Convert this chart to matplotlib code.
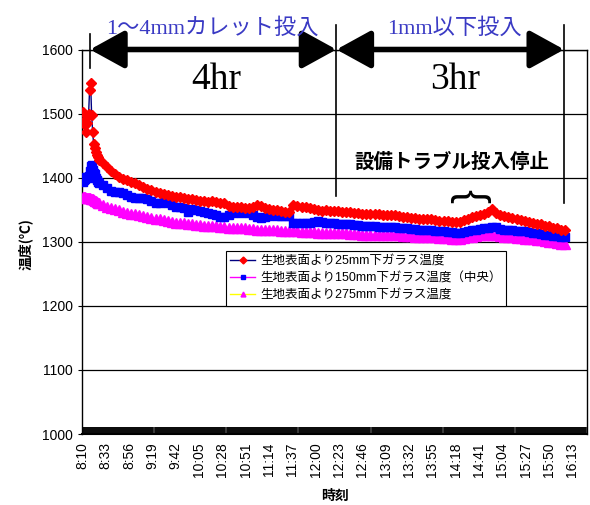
import matplotlib
matplotlib.use("Agg")
import matplotlib.pyplot as plt

plt.rcParams["font.family"] = ["Liberation Sans", "Noto Sans CJK JP"]

# minutes after 8:10 (category positions)
t_min = list(range(0, 17)) + list(range(20, 477, 4))

temp_25 = [1502, 1488, 1482, 1471, 1486, 1497, 1500, 1537, 1547, 1498, 1472, 1452, 1446, 1440, 1436, 1432, 1428,
           1423, 1417, 1411, 1406, 1401, 1398, 1396, 1393, 1392, 1388, 1385, 1383, 1380, 1377, 1376, 1374,
           1373, 1371, 1370, 1370, 1368, 1367, 1366, 1365, 1364, 1363, 1362, 1363, 1362, 1361, 1360, 1356,
           1354, 1354, 1355, 1352, 1353, 1355, 1357, 1356, 1353, 1351, 1349, 1349, 1348, 1346, 1346, 1357,
           1356, 1355, 1354, 1352, 1351, 1349, 1348, 1349, 1348, 1348, 1348, 1347, 1346, 1347, 1345, 1345,
           1344, 1344, 1343, 1343, 1343, 1342, 1342, 1341, 1341, 1340, 1339, 1338, 1337, 1337, 1336, 1336,
           1335, 1335, 1334, 1333, 1332, 1332, 1331, 1331, 1331, 1334, 1336, 1338, 1340, 1342, 1344, 1347,
           1351, 1345, 1341, 1340, 1338, 1337, 1336, 1334, 1333, 1331, 1329, 1328, 1327, 1325, 1324, 1322,
           1321, 1319, 1318]

temp_150 = [1393, 1396, 1398, 1401, 1401, 1400, 1403, 1410, 1418, 1420, 1412, 1408, 1405, 1400, 1396, 1393, 1391,
            1388, 1384, 1379, 1377, 1377, 1376, 1373, 1370, 1368, 1368, 1368, 1366, 1363, 1360, 1361, 1362,
            1360, 1357, 1355, 1354, 1353, 1346, 1351, 1349, 1348, 1347, 1345, 1344, 1342, 1339, 1338, 1342,
            1345, 1346, 1345, 1346, 1345, 1342, 1339, 1337, 1338, 1340, 1341, 1340, 1340, 1340, 1340, 1329,
            1329, 1330, 1329, 1330, 1331, 1332, 1331, 1330, 1329, 1329, 1328, 1328, 1327, 1327, 1326, 1326,
            1325, 1325, 1324, 1324, 1323, 1323, 1323, 1323, 1323, 1322, 1322, 1321, 1320, 1320, 1319, 1319,
            1318, 1318, 1317, 1317, 1316, 1315, 1315, 1314, 1314, 1315, 1316, 1318, 1319, 1320, 1321, 1322,
            1323, 1323, 1320, 1319, 1318, 1318, 1317, 1316, 1316, 1315, 1314, 1313, 1312, 1311, 1310, 1309,
            1309, 1308, 1307]

temp_275 = [1370, 1370, 1370, 1369, 1369, 1369, 1368, 1368, 1367, 1366, 1366, 1365, 1364, 1363, 1362, 1361, 1360,
            1358, 1355, 1353, 1351, 1349, 1347, 1345, 1344, 1343, 1341, 1340, 1339, 1337, 1336, 1335, 1334,
            1333, 1331, 1330, 1329, 1329, 1328, 1327, 1326, 1326, 1325, 1324, 1324, 1324, 1323, 1323, 1322,
            1322, 1321, 1321, 1321, 1320, 1320, 1319, 1319, 1319, 1318, 1318, 1318, 1317, 1317, 1316, 1316,
            1316, 1315, 1315, 1315, 1315, 1314, 1314, 1314, 1314, 1313, 1313, 1313, 1313, 1312, 1312, 1312,
            1311, 1311, 1311, 1311, 1311, 1310, 1310, 1310, 1310, 1310, 1309, 1309, 1309, 1308, 1308, 1308,
            1307, 1307, 1307, 1306, 1306, 1306, 1305, 1305, 1305, 1306, 1307, 1308, 1309, 1310, 1310, 1311,
            1311, 1310, 1309, 1308, 1308, 1307, 1306, 1306, 1305, 1305, 1304, 1303, 1302, 1301, 1300, 1299,
            1298, 1297, 1296]

series_names = ["生地表面より25mm下ガラス温度",
                "生地表面より150mm下ガラス温度（中央）",
                "生地表面より275mm下ガラス温度"]

tick_pos = list(range(0, 484, 23))
tick_labels = ["8:10", "8:33", "8:56", "9:19", "9:42", "10:05", "10:28", "10:51", "11:14", "11:37", "12:00",
               "12:23", "12:46", "13:09", "13:32", "13:55", "14:18", "14:41", "15:04", "15:27", "15:50", "16:13"]

W, H = 590, 505
fig = plt.figure(figsize=(W / 100, H / 100), dpi=100)
ax = fig.add_axes([82 / W, 1 - 434 / H, (587 - 82) / W, (434 - 49.5) / H])

ax.plot(t_min, temp_25, color="#000080", lw=1, marker="D", ms=5.5, mfc="red", mec="red",
        label=series_names[0], zorder=5)
ax.plot(t_min, temp_150, color="#FF00FF", lw=1, marker="s", ms=5.5, mfc="#0000FF", mec="#0000FF",
        label=series_names[1], zorder=4)
ax.plot(t_min, temp_275, color="#FFFF00", lw=1, marker="^", ms=6.5, mfc="#FF00FF", mec="#FF00FF",
        label=series_names[2], zorder=3)

ax.set_xlim(-0.5, 497.5)
ax.set_ylim(1000, 1600)
ax.set_yticks(range(1000, 1601, 100))
ax.yaxis.grid(True, color="black", lw=0.9)
ax.set_axisbelow(True)
ax.set_xticks(tick_pos)
ax.set_xticklabels(tick_labels, rotation=90, fontsize=10)
ax.set_xticks(range(0, 498), minor=True)
ax.tick_params(axis="x", which="minor", direction="in", length=5, width=1.1)
ax.tick_params(axis="x", which="major", direction="in", length=5, width=1.1, pad=6)
ax.tick_params(axis="y", direction="out", length=3, labelsize=10)
for s in ax.spines.values():
    s.set_linewidth(1.0)
ax.spines["bottom"].set_linewidth(1.5)

fig.text(25 / W, 1 - 244 / H, "温度(℃)", rotation=90, ha="center", va="center", fontsize=10,
         fontweight="bold", family=["Noto Sans CJK JP"])
fig.text(335 / W, 1 - 496 / H, "時刻", ha="center", va="center", fontsize=10, fontweight="bold",
         family=["Noto Sans CJK JP"])

leg = ax.legend(loc="upper left", bbox_to_anchor=((226 - 82) / 505, (434 - 251) / 384.5),
                frameon=True, fancybox=False, edgecolor="black", framealpha=1,
                handlelength=2.0, handletextpad=0.4, borderpad=0.35, labelspacing=0.4,
                borderaxespad=0, prop={"family": ["Liberation Sans", "Noto Sans CJK JP"], "size": 9})
leg.get_frame().set_linewidth(0.8)
for h in leg.legend_handles:
    h.set_markersize(3.5)

# period annotations
xl, xm, xr = 7.4, 250.4, 475
ax.plot([xl, xl], [1624, 1571], color="black", lw=1.2, clip_on=False)
ax.plot([xm, xm], [1638, 1371], color="black", lw=1.2, clip_on=False)
ax.plot([xr, xr], [1638, 1360], color="black", lw=1.2, clip_on=False)
for a, b in [(xl, xm), (xm, xr)]:
    ax.annotate("", xy=(b, 1600), xytext=(a, 1600), annotation_clip=False,
                arrowprops=dict(arrowstyle="<|-|>,head_length=1.0,head_width=0.55", mutation_scale=21,
                                color="black", lw=4, shrinkA=0, shrinkB=0))

blue_txt = "#3A3AC4"
fig.text(212 / W, 1 - 28 / H, "1～4mmカレット投入", ha="center", va="center", fontsize=16, color=blue_txt,
         family=["Liberation Serif", "Noto Sans CJK JP"])
fig.text(454 / W, 1 - 28 / H, "1mm以下投入", ha="center", va="center", fontsize=16, color=blue_txt,
         family=["Liberation Serif", "Noto Sans CJK JP"])
fig.text(216 / W, 1 - 80 / H, "4hr", ha="center", va="center", fontsize=27,
         family=["Liberation Serif"])
fig.text(455 / W, 1 - 80 / H, "3hr", ha="center", va="center", fontsize=27,
         family=["Liberation Serif"])
fig.text(452 / W, 1 - 162 / H, "設備トラブル投入停止", ha="center", va="center", fontsize=14,
         fontweight="bold", family=["Noto Sans CJK JP"])
fig.text(469 / W, 1 - 196 / H, "{", rotation=-90, ha="center", va="center", fontsize=30,
         family=["Liberation Sans"])

fig.savefig("out.png", dpi=100)
